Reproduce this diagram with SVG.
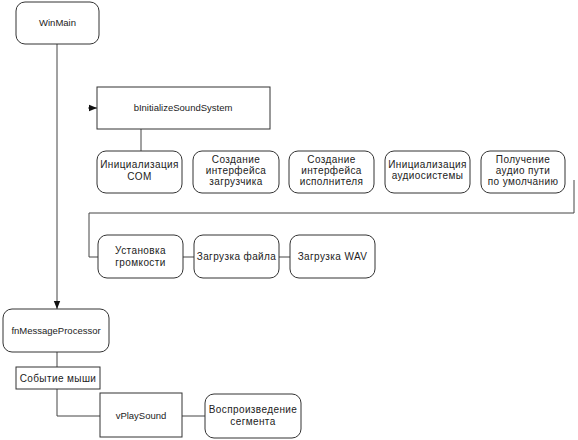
<svg xmlns="http://www.w3.org/2000/svg" width="578" height="440" viewBox="0 0 578 440">
<defs>
<style>
.b{fill:#fff;stroke:#333;stroke-width:1}
.t{font-family:"Liberation Sans",Arial,sans-serif;font-size:9.5px;fill:#222;text-anchor:middle}
.r{font-size:10px;letter-spacing:0.4px}
.c{fill:none;stroke:#444;stroke-width:1}
</style>
<marker id="ah" viewBox="0 0 10 10" refX="10" refY="5" markerWidth="8" markerHeight="8" markerUnits="userSpaceOnUse" orient="auto">
<path d="M0,1 L10,5 L0,9 Z" fill="#111"/>
</marker>
</defs>
<rect width="578" height="440" fill="#fff"/>
<g id="connectors">
<path class="c" d="M57,44 V309" marker-end="url(#ah)"/>
<path class="c" d="M88,108 H97" marker-end="url(#ah)"/>
<path class="c" d="M141,129 V151"/>
<path class="c" d="M574,180 V213 H89 V257 H98"/>
<path class="c" d="M183,257 H194"/>
<path class="c" d="M279,257 H290"/>
<path class="c" d="M57,352 V367"/>
<path class="c" d="M57,389 V416 H100"/>
<path class="c" d="M182,416 H205"/>
</g>
<g id="winmain">
<rect class="b" x="16" y="2" width="83" height="42" rx="9"/>
<text class="t" x="57.5" y="26">WinMain</text>
</g>
<g id="binit">
<rect class="b" x="97" y="87" width="173" height="42"/>
<text class="t" x="183" y="111">bInitializeSoundSystem</text>
</g>
<g id="initcom">
<rect class="b" x="97" y="151" width="85" height="42" rx="9"/>
<text class="t r" x="139.5" y="168">Инициализация</text>
<text class="t r" x="139.5" y="180">COM</text>
</g>
<g id="loader">
<rect class="b" x="193" y="151" width="86" height="42" rx="9"/>
<text class="t r" x="236" y="163">Создание</text>
<text class="t r" x="236" y="174">интерфейса</text>
<text class="t r" x="236" y="185">загрузчика</text>
</g>
<g id="performer">
<rect class="b" x="289" y="151" width="85" height="42" rx="9"/>
<text class="t r" x="331.5" y="163">Создание</text>
<text class="t r" x="331.5" y="174">интерфейса</text>
<text class="t r" x="331.5" y="185">исполнителя</text>
</g>
<g id="audioinit">
<rect class="b" x="385" y="151" width="85" height="42" rx="9"/>
<text class="t r" x="427.5" y="168">Инициализация</text>
<text class="t r" x="427.5" y="179">аудиосистемы</text>
</g>
<g id="audiopath">
<rect class="b" x="481" y="151" width="84" height="42" rx="9"/>
<text class="t r" x="523" y="163">Получение</text>
<text class="t r" x="523" y="174">аудио пути</text>
<text class="t r" x="523" y="185">по умолчанию</text>
</g>
<g id="volume">
<rect class="b" x="98" y="235" width="85" height="43" rx="9"/>
<text class="t r" x="140.5" y="254">Установка</text>
<text class="t r" x="140.5" y="266">громкости</text>
</g>
<g id="loadfile">
<rect class="b" x="194" y="235" width="85" height="43" rx="9"/>
<text class="t r" x="236.5" y="260">Загрузка файла</text>
</g>
<g id="loadwav">
<rect class="b" x="290" y="235" width="85" height="43" rx="9"/>
<text class="t r" x="332.5" y="260">Загрузка WAV</text>
</g>
<g id="fnmsg">
<rect class="b" x="3" y="309" width="106" height="43" rx="9"/>
<text class="t" x="56" y="334">fnMessageProcessor</text>
</g>
<g id="mouse">
<rect class="b" x="16" y="367" width="84" height="22"/>
<text class="t r" x="58" y="381.5">Событие мыши</text>
</g>
<g id="vplay">
<rect class="b" x="100" y="393" width="82" height="44"/>
<text class="t" x="141" y="419">vPlaySound</text>
</g>
<g id="playseg">
<rect class="b" x="205" y="394" width="96" height="44" rx="9"/>
<text class="t r" x="253" y="413">Воспроизведение</text>
<text class="t r" x="253" y="425">сегмента</text>
</g>
</svg>
